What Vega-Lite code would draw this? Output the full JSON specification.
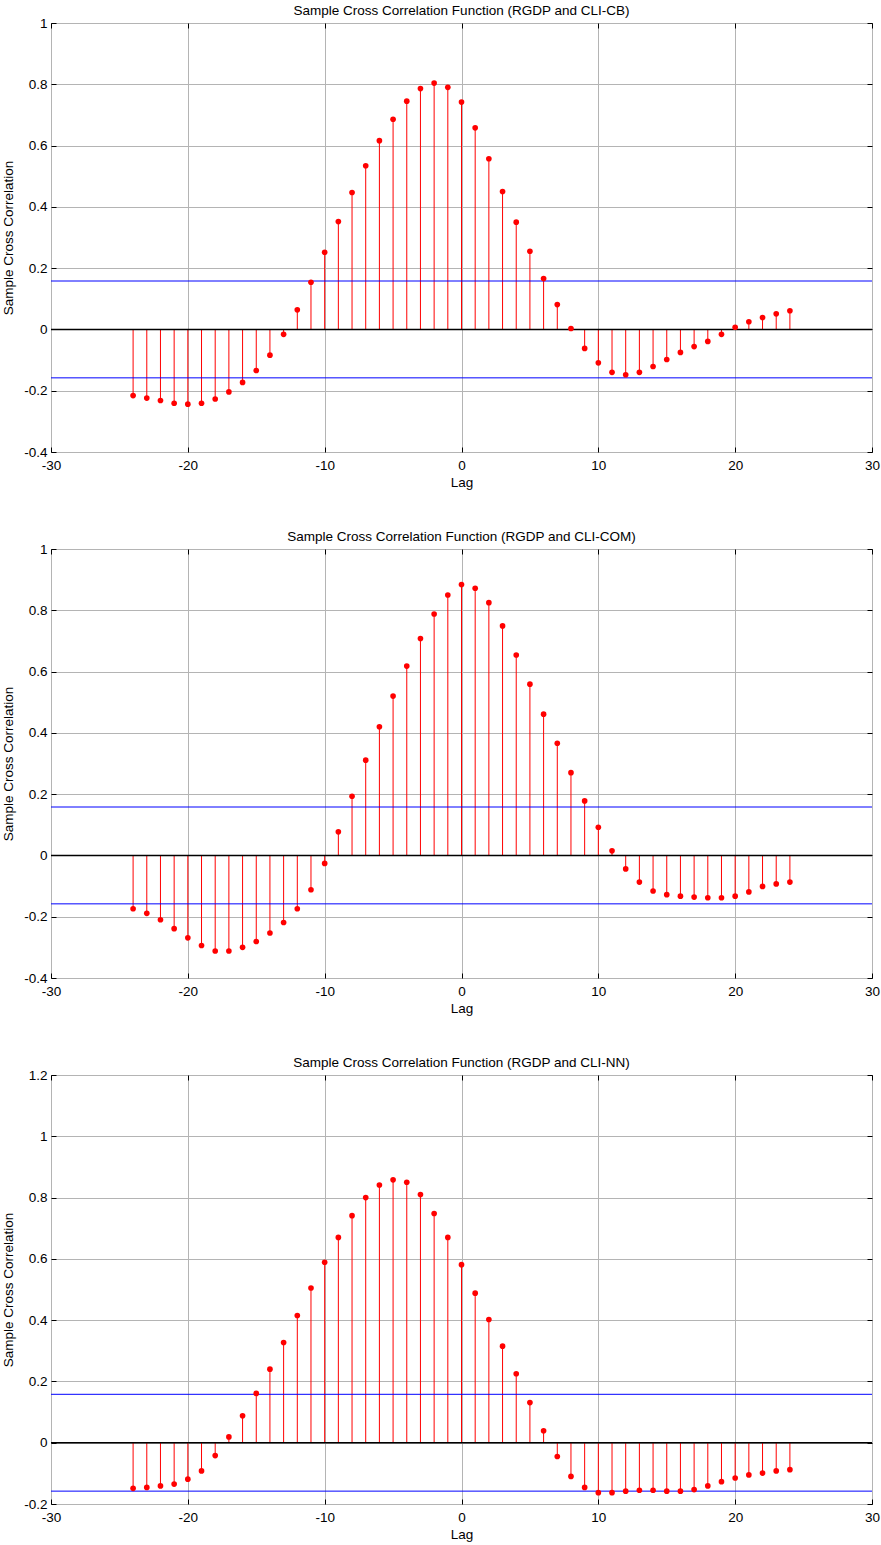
{
  "$schema": "https://vega.github.io/schema/vega-lite/v6.json",
  "padding": {"left": 1, "top": 3, "right": 5, "bottom": 2},
  "config": {
    "font": "Liberation Sans",
    "view": {"stroke": "#000000", "strokeWidth": 1},
    "axis": {
      "labelFont": "Liberation Sans", "titleFont": "Liberation Sans",
      "labelFontSize": 13.5, "titleFontSize": 13.5, "titleFontWeight": "normal",
      "labelColor": "#000000", "titleColor": "#000000",
      "gridColor": "#b4b4b4", "gridOpacity": 1, "gridWidth": 1,
      "tickColor": "#000000", "tickSize": -5, "labelPadding": 9,
      "domain": false, "labelFlush": false, "labelOverlap": false, "zindex": 0
    },
    "axisBottom": {"labelPadding": 11},
    "title": {"font": "Liberation Sans", "fontSize": 13.5, "fontWeight": "normal", "color": "#000000", "offset": -1},
    "concat": {"spacing": 39}
  },
  "datasets": {
    "acf": [
      {"pair": "CB", "lag": -24, "r": -0.216}, {"pair": "CB", "lag": -23, "r": -0.224}, {"pair": "CB", "lag": -22, "r": -0.232},
      {"pair": "CB", "lag": -21, "r": -0.241}, {"pair": "CB", "lag": -20, "r": -0.244}, {"pair": "CB", "lag": -19, "r": -0.241},
      {"pair": "CB", "lag": -18, "r": -0.227}, {"pair": "CB", "lag": -17, "r": -0.204}, {"pair": "CB", "lag": -16, "r": -0.173},
      {"pair": "CB", "lag": -15, "r": -0.134}, {"pair": "CB", "lag": -14, "r": -0.084}, {"pair": "CB", "lag": -13, "r": -0.016},
      {"pair": "CB", "lag": -12, "r": 0.064}, {"pair": "CB", "lag": -11, "r": 0.154}, {"pair": "CB", "lag": -10, "r": 0.252},
      {"pair": "CB", "lag": -9, "r": 0.352}, {"pair": "CB", "lag": -8, "r": 0.447}, {"pair": "CB", "lag": -7, "r": 0.534},
      {"pair": "CB", "lag": -6, "r": 0.616}, {"pair": "CB", "lag": -5, "r": 0.686}, {"pair": "CB", "lag": -4, "r": 0.745},
      {"pair": "CB", "lag": -3, "r": 0.786}, {"pair": "CB", "lag": -2, "r": 0.804}, {"pair": "CB", "lag": -1, "r": 0.790},
      {"pair": "CB", "lag": 0, "r": 0.742}, {"pair": "CB", "lag": 1, "r": 0.658}, {"pair": "CB", "lag": 2, "r": 0.557},
      {"pair": "CB", "lag": 3, "r": 0.450}, {"pair": "CB", "lag": 4, "r": 0.350}, {"pair": "CB", "lag": 5, "r": 0.255},
      {"pair": "CB", "lag": 6, "r": 0.166}, {"pair": "CB", "lag": 7, "r": 0.081}, {"pair": "CB", "lag": 8, "r": 0.003},
      {"pair": "CB", "lag": 9, "r": -0.062}, {"pair": "CB", "lag": 10, "r": -0.109}, {"pair": "CB", "lag": 11, "r": -0.140},
      {"pair": "CB", "lag": 12, "r": -0.148}, {"pair": "CB", "lag": 13, "r": -0.140}, {"pair": "CB", "lag": 14, "r": -0.121},
      {"pair": "CB", "lag": 15, "r": -0.098}, {"pair": "CB", "lag": 16, "r": -0.075}, {"pair": "CB", "lag": 17, "r": -0.056},
      {"pair": "CB", "lag": 18, "r": -0.039}, {"pair": "CB", "lag": 19, "r": -0.016}, {"pair": "CB", "lag": 20, "r": 0.007},
      {"pair": "CB", "lag": 21, "r": 0.025}, {"pair": "CB", "lag": 22, "r": 0.039}, {"pair": "CB", "lag": 23, "r": 0.051},
      {"pair": "CB", "lag": 24, "r": 0.061},

      {"pair": "COM", "lag": -24, "r": -0.174}, {"pair": "COM", "lag": -23, "r": -0.189}, {"pair": "COM", "lag": -22, "r": -0.210},
      {"pair": "COM", "lag": -21, "r": -0.239}, {"pair": "COM", "lag": -20, "r": -0.269}, {"pair": "COM", "lag": -19, "r": -0.294},
      {"pair": "COM", "lag": -18, "r": -0.312}, {"pair": "COM", "lag": -17, "r": -0.312}, {"pair": "COM", "lag": -16, "r": -0.300},
      {"pair": "COM", "lag": -15, "r": -0.281}, {"pair": "COM", "lag": -14, "r": -0.253}, {"pair": "COM", "lag": -13, "r": -0.219},
      {"pair": "COM", "lag": -12, "r": -0.174}, {"pair": "COM", "lag": -11, "r": -0.112}, {"pair": "COM", "lag": -10, "r": -0.026},
      {"pair": "COM", "lag": -9, "r": 0.077}, {"pair": "COM", "lag": -8, "r": 0.193}, {"pair": "COM", "lag": -7, "r": 0.311},
      {"pair": "COM", "lag": -6, "r": 0.420}, {"pair": "COM", "lag": -5, "r": 0.520}, {"pair": "COM", "lag": -4, "r": 0.618},
      {"pair": "COM", "lag": -3, "r": 0.708}, {"pair": "COM", "lag": -2, "r": 0.788}, {"pair": "COM", "lag": -1, "r": 0.850},
      {"pair": "COM", "lag": 0, "r": 0.884}, {"pair": "COM", "lag": 1, "r": 0.872}, {"pair": "COM", "lag": 2, "r": 0.825},
      {"pair": "COM", "lag": 3, "r": 0.749}, {"pair": "COM", "lag": 4, "r": 0.654}, {"pair": "COM", "lag": 5, "r": 0.559},
      {"pair": "COM", "lag": 6, "r": 0.461}, {"pair": "COM", "lag": 7, "r": 0.366}, {"pair": "COM", "lag": 8, "r": 0.270},
      {"pair": "COM", "lag": 9, "r": 0.178}, {"pair": "COM", "lag": 10, "r": 0.092}, {"pair": "COM", "lag": 11, "r": 0.015},
      {"pair": "COM", "lag": 12, "r": -0.044}, {"pair": "COM", "lag": 13, "r": -0.087}, {"pair": "COM", "lag": 14, "r": -0.116},
      {"pair": "COM", "lag": 15, "r": -0.128}, {"pair": "COM", "lag": 16, "r": -0.133}, {"pair": "COM", "lag": 17, "r": -0.136},
      {"pair": "COM", "lag": 18, "r": -0.138}, {"pair": "COM", "lag": 19, "r": -0.138}, {"pair": "COM", "lag": 20, "r": -0.133},
      {"pair": "COM", "lag": 21, "r": -0.119}, {"pair": "COM", "lag": 22, "r": -0.101}, {"pair": "COM", "lag": 23, "r": -0.093},
      {"pair": "COM", "lag": 24, "r": -0.087},

      {"pair": "NN", "lag": -24, "r": -0.149}, {"pair": "NN", "lag": -23, "r": -0.146}, {"pair": "NN", "lag": -22, "r": -0.141},
      {"pair": "NN", "lag": -21, "r": -0.135}, {"pair": "NN", "lag": -20, "r": -0.119}, {"pair": "NN", "lag": -19, "r": -0.092},
      {"pair": "NN", "lag": -18, "r": -0.042}, {"pair": "NN", "lag": -17, "r": 0.019}, {"pair": "NN", "lag": -16, "r": 0.088},
      {"pair": "NN", "lag": -15, "r": 0.161}, {"pair": "NN", "lag": -14, "r": 0.240}, {"pair": "NN", "lag": -13, "r": 0.327},
      {"pair": "NN", "lag": -12, "r": 0.415}, {"pair": "NN", "lag": -11, "r": 0.505}, {"pair": "NN", "lag": -10, "r": 0.589},
      {"pair": "NN", "lag": -9, "r": 0.670}, {"pair": "NN", "lag": -8, "r": 0.741}, {"pair": "NN", "lag": -7, "r": 0.800},
      {"pair": "NN", "lag": -6, "r": 0.841}, {"pair": "NN", "lag": -5, "r": 0.858}, {"pair": "NN", "lag": -4, "r": 0.850},
      {"pair": "NN", "lag": -3, "r": 0.810}, {"pair": "NN", "lag": -2, "r": 0.748}, {"pair": "NN", "lag": -1, "r": 0.670},
      {"pair": "NN", "lag": 0, "r": 0.581}, {"pair": "NN", "lag": 1, "r": 0.488}, {"pair": "NN", "lag": 2, "r": 0.402},
      {"pair": "NN", "lag": 3, "r": 0.315}, {"pair": "NN", "lag": 4, "r": 0.225}, {"pair": "NN", "lag": 5, "r": 0.131},
      {"pair": "NN", "lag": 6, "r": 0.039}, {"pair": "NN", "lag": 7, "r": -0.045}, {"pair": "NN", "lag": 8, "r": -0.110},
      {"pair": "NN", "lag": 9, "r": -0.146}, {"pair": "NN", "lag": 10, "r": -0.163}, {"pair": "NN", "lag": 11, "r": -0.163},
      {"pair": "NN", "lag": 12, "r": -0.158}, {"pair": "NN", "lag": 13, "r": -0.155}, {"pair": "NN", "lag": 14, "r": -0.155},
      {"pair": "NN", "lag": 15, "r": -0.158}, {"pair": "NN", "lag": 16, "r": -0.158}, {"pair": "NN", "lag": 17, "r": -0.153},
      {"pair": "NN", "lag": 18, "r": -0.141}, {"pair": "NN", "lag": 19, "r": -0.127}, {"pair": "NN", "lag": 20, "r": -0.115},
      {"pair": "NN", "lag": 21, "r": -0.105}, {"pair": "NN", "lag": 22, "r": -0.099}, {"pair": "NN", "lag": 23, "r": -0.092},
      {"pair": "NN", "lag": 24, "r": -0.088}
    ],
    "bounds": [
      {"pair": "CB", "b": 0.158}, {"pair": "CB", "b": -0.158},
      {"pair": "COM", "b": 0.158}, {"pair": "COM", "b": -0.158},
      {"pair": "NN", "b": 0.158}, {"pair": "NN", "b": -0.158}
    ],
    "zero": [{"z": 0}]
  },
  "vconcat": [
    {
      "title": "Sample Cross Correlation Function (RGDP and CLI-CB)",
      "width": 821, "height": 429,
      "layer": [
        {
          "data": {"name": "acf"},
          "transform": [{"filter": "datum.pair == 'CB'"}],
          "mark": {"type": "rule", "color": "#ff0000", "strokeWidth": 1},
          "encoding": {
            "x": {"field": "lag", "type": "quantitative", "scale": {"domain": [-30, 30], "nice": false},
                  "axis": {"values": [-30, -20, -10, 0, 10, 20, 30], "title": "Lag", "titlePadding": 4, "labelExpr": "datum.value + ''"}},
            "y": {"field": "r", "type": "quantitative", "scale": {"domain": [-0.4, 1], "nice": false, "zero": false},
                  "axis": {"values": [-0.4, -0.2, 0, 0.2, 0.4, 0.6, 0.8, 1], "title": "Sample Cross Correlation", "titlePadding": 8, "labelExpr": "datum.value + ''"}},
            "y2": {"datum": 0}
          }
        },
        {
          "data": {"name": "zero"},
          "mark": {"type": "rule", "color": "#000000", "strokeWidth": 1.5},
          "encoding": {"y": {"field": "z", "type": "quantitative", "axis": null}}
        },
        {
          "data": {"name": "bounds"},
          "transform": [{"filter": "datum.pair == 'CB'"}],
          "mark": {"type": "rule", "color": "#0000ff", "strokeWidth": 1},
          "encoding": {"y": {"field": "b", "type": "quantitative", "axis": null}}
        },
        {
          "data": {"name": "acf"},
          "transform": [{"filter": "datum.pair == 'CB'"}],
          "mark": {"type": "circle", "color": "#ff0000", "opacity": 1, "size": 32},
          "encoding": {
            "x": {"field": "lag", "type": "quantitative", "axis": {"orient": "top", "values": [-30, -20, -10, 0, 10, 20, 30], "labels": false, "title": null, "grid": false}},
            "y": {"field": "r", "type": "quantitative", "axis": {"orient": "right", "values": [-0.4, -0.2, 0, 0.2, 0.4, 0.6, 0.8, 1], "labels": false, "title": null, "grid": false}}
          }
        }
      ],
      "resolve": {"axis": {"x": "independent", "y": "independent"}}
    },
    {
      "title": "Sample Cross Correlation Function (RGDP and CLI-COM)",
      "width": 821, "height": 429,
      "layer": [
        {
          "data": {"name": "acf"},
          "transform": [{"filter": "datum.pair == 'COM'"}],
          "mark": {"type": "rule", "color": "#ff0000", "strokeWidth": 1},
          "encoding": {
            "x": {"field": "lag", "type": "quantitative", "scale": {"domain": [-30, 30], "nice": false},
                  "axis": {"values": [-30, -20, -10, 0, 10, 20, 30], "title": "Lag", "titlePadding": 4, "labelExpr": "datum.value + ''"}},
            "y": {"field": "r", "type": "quantitative", "scale": {"domain": [-0.4, 1], "nice": false, "zero": false},
                  "axis": {"values": [-0.4, -0.2, 0, 0.2, 0.4, 0.6, 0.8, 1], "title": "Sample Cross Correlation", "titlePadding": 8, "labelExpr": "datum.value + ''"}},
            "y2": {"datum": 0}
          }
        },
        {
          "data": {"name": "zero"},
          "mark": {"type": "rule", "color": "#000000", "strokeWidth": 1.5},
          "encoding": {"y": {"field": "z", "type": "quantitative", "axis": null}}
        },
        {
          "data": {"name": "bounds"},
          "transform": [{"filter": "datum.pair == 'COM'"}],
          "mark": {"type": "rule", "color": "#0000ff", "strokeWidth": 1},
          "encoding": {"y": {"field": "b", "type": "quantitative", "axis": null}}
        },
        {
          "data": {"name": "acf"},
          "transform": [{"filter": "datum.pair == 'COM'"}],
          "mark": {"type": "circle", "color": "#ff0000", "opacity": 1, "size": 32},
          "encoding": {
            "x": {"field": "lag", "type": "quantitative", "axis": {"orient": "top", "values": [-30, -20, -10, 0, 10, 20, 30], "labels": false, "title": null, "grid": false}},
            "y": {"field": "r", "type": "quantitative", "axis": {"orient": "right", "values": [-0.4, -0.2, 0, 0.2, 0.4, 0.6, 0.8, 1], "labels": false, "title": null, "grid": false}}
          }
        }
      ],
      "resolve": {"axis": {"x": "independent", "y": "independent"}}
    },
    {
      "title": "Sample Cross Correlation Function (RGDP and CLI-NN)",
      "width": 821, "height": 429,
      "layer": [
        {
          "data": {"name": "acf"},
          "transform": [{"filter": "datum.pair == 'NN'"}],
          "mark": {"type": "rule", "color": "#ff0000", "strokeWidth": 1},
          "encoding": {
            "x": {"field": "lag", "type": "quantitative", "scale": {"domain": [-30, 30], "nice": false},
                  "axis": {"values": [-30, -20, -10, 0, 10, 20, 30], "title": "Lag", "titlePadding": 4, "labelExpr": "datum.value + ''"}},
            "y": {"field": "r", "type": "quantitative", "scale": {"domain": [-0.2, 1.2], "nice": false, "zero": false},
                  "axis": {"values": [-0.2, 0, 0.2, 0.4, 0.6, 0.8, 1, 1.2], "title": "Sample Cross Correlation", "titlePadding": 8, "labelExpr": "datum.value + ''"}},
            "y2": {"datum": 0}
          }
        },
        {
          "data": {"name": "zero"},
          "mark": {"type": "rule", "color": "#000000", "strokeWidth": 1.5},
          "encoding": {"y": {"field": "z", "type": "quantitative", "axis": null}}
        },
        {
          "data": {"name": "bounds"},
          "transform": [{"filter": "datum.pair == 'NN'"}],
          "mark": {"type": "rule", "color": "#0000ff", "strokeWidth": 1},
          "encoding": {"y": {"field": "b", "type": "quantitative", "axis": null}}
        },
        {
          "data": {"name": "acf"},
          "transform": [{"filter": "datum.pair == 'NN'"}],
          "mark": {"type": "circle", "color": "#ff0000", "opacity": 1, "size": 32},
          "encoding": {
            "x": {"field": "lag", "type": "quantitative", "axis": {"orient": "top", "values": [-30, -20, -10, 0, 10, 20, 30], "labels": false, "title": null, "grid": false}},
            "y": {"field": "r", "type": "quantitative", "axis": {"orient": "right", "values": [-0.2, 0, 0.2, 0.4, 0.6, 0.8, 1, 1.2], "labels": false, "title": null, "grid": false}}
          }
        }
      ],
      "resolve": {"axis": {"x": "independent", "y": "independent"}}
    }
  ]
}
